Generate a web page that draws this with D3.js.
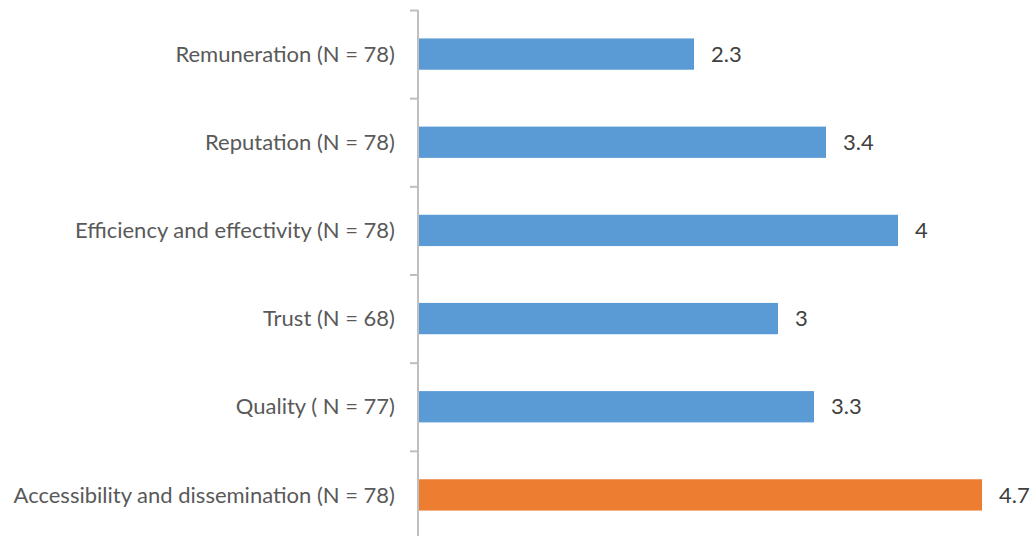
<!DOCTYPE html>
<html lang="en">
<head>
    <meta charset="utf-8" />
    <style>
        body {margin:0; background:#fff;}
        text {font-family: Lato, "Open Sans", sans-serif; font-size: 22px; fill: #595959;}
    </style>
    <script src="https://cdn.jsdelivr.net/npm/d3@7/dist/d3.min.js"></script>
</head>
<body>
    <svg></svg>
</body>
<script>
    var width = 1030,
        height = 536;

    var categories = ["Remuneration (N = 78)", "Reputation (N = 78)", "Efficiency and effectivity (N = 78)",
                      "Trust (N = 68)", "Quality ( N = 77)", "Accessibility and dissemination (N = 78)"];
    var values = [2.3, 3.4, 4, 3, 3.3, 4.7];
    var barColors = ["#5b9bd5", "#5b9bd5", "#5b9bd5", "#5b9bd5", "#5b9bd5", "#ed7d31"];

    var svg = d3.select("svg")
        .attr("width", width)
        .attr("height", height)

    var x = d3.scaleLinear().domain([0, 5]).range([418, 1018]);
    var y = d3.scaleBand().domain(categories).range([10, 539]).paddingInner(0.645).paddingOuter(0.3225);

    // boundaries between categories, for the tick marks
    var yEdge = d3.scaleLinear().domain([0, categories.length]).range([10, 539]);

    svg.append("g").selectAll("rect")
        .data(values)
      .enter().append("rect")
        .attr("x", x(0))
        .attr("y", function(d, i) {return y(categories[i])})
        .attr("width", function(d) {return x(d) - x(0)})
        .attr("height", y.bandwidth())
        .attr("fill", function(d, i) {return barColors[i]})

    var axis = svg.append("g")
        .attr("transform", "translate(" + x(0) + ",0)")
        .call(d3.axisLeft(yEdge).tickValues(d3.range(categories.length)).tickSize(8).tickFormat(""))
    axis.select(".domain").attr("stroke", "#bfbfbf").attr("stroke-width", 2).attr("d", "M0,10V536")
    axis.selectAll(".tick line").attr("stroke", "#bfbfbf").attr("stroke-width", 2)

    svg.append("g").selectAll("text")
        .data(categories)
      .enter().append("text")
        .attr("x", 395)
        .attr("y", function(d) {return y(d) + y.bandwidth() / 2})
        .attr("dy", "0.35em")
        .attr("text-anchor", "end")
        .text(function(d) {return d})

    svg.append("g").selectAll("text")
        .data(values)
      .enter().append("text")
        .attr("x", function(d) {return x(d) + 17})
        .attr("y", function(d, i) {return y(categories[i]) + y.bandwidth() / 2})
        .attr("dy", "0.35em")
        .style("fill", "#404040")
        .text(function(d) {return d})
</script>
</html>
